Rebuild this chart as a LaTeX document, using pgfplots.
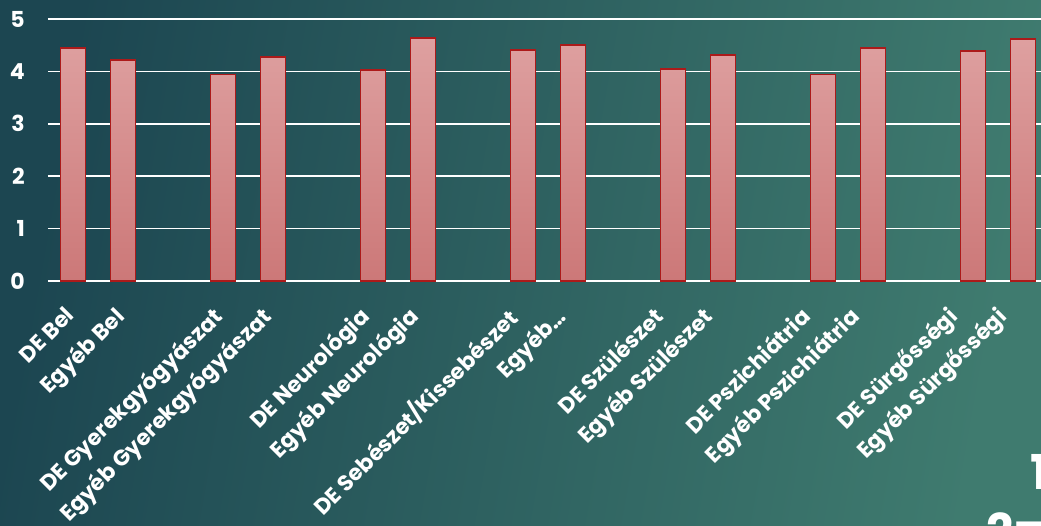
\documentclass[border=0pt]{standalone}
\usepackage{pgfplots}
\pgfplotsset{compat=1.18}
\usepackage{fontspec}
\setmainfont{Poppins}
\definecolor{bgL}{HTML}{1C4651}
\definecolor{bgR}{HTML}{3F7B6F}
\definecolor{barTop}{HTML}{DEA0A0}
\definecolor{barBot}{HTML}{CC7878}
\definecolor{barEdge}{HTML}{AC1A1A}
\begin{document}
\begin{tikzpicture}
\shade[left color=bgL, right color=bgR, shading angle=80] (-48pt,-245pt) rectangle (993pt,281pt);
\begin{axis}[
  at={(0,0)}, anchor=south west,
  scale only axis, width=993pt, height=262pt,
  xmin=-0.5, xmax=19.36, ymin=0, ymax=5,
  axis line style={draw=none},
  major tick length=0pt,
  ymajorgrids, major grid style={white, line width=1.6pt},
  ytick={0,1,2,3,4,5},
  /pgf/number format/assume math mode=true,
  yticklabel style={font=\bfseries\fontsize{22}{22}\selectfont, text=white, anchor=east, inner sep=0pt, xshift=-23pt},
  xtick={0,0.98,2.94,3.92,5.88,6.86,8.82,9.80,11.76,12.74,14.70,15.68,17.64,18.62},
  xticklabels={DE Bel, Egyéb Bel, DE Gyerekgyógyászat, Egyéb Gyerekgyógyászat, DE Neurológia, Egyéb Neurológia, DE Sebészet/Kissebészet, Egyéb…, DE Szülészet, Egyéb Szülészet, DE Pszichiátria, Egyéb Pszichiátria, DE Sürgősségi, Egyéb Sürgősségi},
  xticklabel style={font=\bfseries\fontsize{22}{22}\selectfont, text=white, xshift=-9pt, yshift=-24pt, rotate=45, anchor=north east, inner sep=0pt},
  clip=false,
]
\addplot[ybar, bar width=25pt, draw=barEdge, line width=1.8pt, top color=barTop, bottom color=barBot] table {
x y
0 4.44
1 4.22
3 3.94
4 4.27
6 4.02
7 4.64
9 4.41
10 4.50
12 4.05
13 4.31
15 3.94
16 4.44
18 4.39
19 4.62
};
\end{axis}
\node[anchor=north west, inner sep=0pt, text=white, font=\bfseries\fontsize{48}{48}\selectfont] at (982pt,-173pt) {1};
\node[anchor=north west, inner sep=0pt, text=white, font=\bfseries\fontsize{48}{48}\selectfont] at (938pt,-231pt) {2=};
\pgfresetboundingbox
\useasboundingbox (-48pt,-245pt) rectangle (993pt,281pt);
\end{tikzpicture}
\end{document}
